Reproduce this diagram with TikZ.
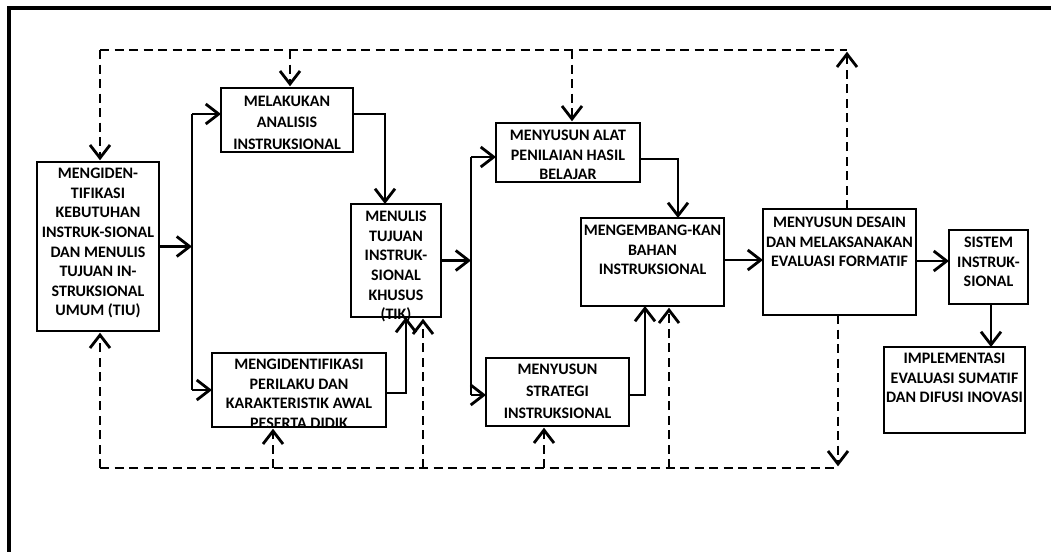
\documentclass[tikz,border=0pt]{standalone}
\usepackage{fontspec}
\setmainfont{Carlito}
\usetikzlibrary{arrows.meta}
\begin{document}
\begin{tikzpicture}[x=1pt,y=-1pt,
  box/.style={draw, line width=1.5pt, inner sep=0pt, outer sep=0pt, anchor=north west},
  txt/.style={anchor=north, inner sep=0pt, align=center, font=\fontsize{16}{19.6}\selectfont\bfseries},
  txtw/.style={anchor=north, inner sep=0pt, align=center, font=\fontsize{16}{21.8}\selectfont\bfseries},
  conn/.style={line width=2.8pt, line join=miter, -{Straight Barb[length=13pt,width=20pt,line width=2.8pt]}},
  plain/.style={line width=2.8pt},
  dsh/.style={line width=2.8pt, dash pattern=on 9pt off 5.5pt},
  dshar/.style={dsh, -{Straight Barb[length=13pt,width=20pt,line width=2.8pt,sep]}}
]
\useasboundingbox (0,0) rectangle (1051,551);
% outer frame
\draw[line width=3.5pt] (9,560) -- (9,8) -- (1060,8);

% boxes
\node[box, minimum width=122pt, minimum height=169pt] (A) at (37,162) {};
\node[box, minimum width=132pt, minimum height=64pt] (B) at (221,88) {};
\node[box, minimum width=174pt, minimum height=74pt] (C) at (212,353) {};
\node[box, minimum width=90pt, minimum height=113pt] (D) at (351,204) {};
\node[box, minimum width=144pt, minimum height=59pt] (E) at (496,123) {};
\node[box, minimum width=143pt, minimum height=88pt] (F) at (581,218) {};
\node[box, minimum width=143pt, minimum height=68pt] (G) at (486,358) {};
\node[box, minimum width=153pt, minimum height=106pt] (H) at (763,209) {};
\node[box, minimum width=79pt, minimum height=74pt] (I) at (949,230) {};
\node[box, minimum width=141pt, minimum height=86pt] (J) at (884,347) {};

% texts
\node[txt] (At) at ([yshift=-6pt]A.north) {MENGIDEN-\\TIFIKASI\\KEBUTUHAN\\INSTRUK-SIONAL\\DAN MENULIS\\TUJUAN IN-\\STRUKSIONAL\\UMUM (TIU)};
\node[txtw] (Bt) at ([yshift=-7.5pt]B.north) {MELAKUKAN\\ANALISIS\\INSTRUKSIONAL};
\node[txt] (Ct) at ([yshift=-6pt]C.north) {MENGIDENTIFIKASI\\PERILAKU DAN\\KARAKTERISTIK AWAL\\PESERTA DIDIK};
\node[txt] (Dt) at ([yshift=-7pt]D.north) {MENULIS\\TUJUAN\\INSTRUK-\\SIONAL\\KHUSUS\\(TIK)};
\node[txt] (Et) at ([yshift=-7pt]E.north) {MENYUSUN ALAT\\PENILAIAN HASIL\\BELAJAR};
\node[txt] (Ft) at ([yshift=-7pt]F.north) {MENGEMBANG-KAN\\BAHAN\\INSTRUKSIONAL};
\node[txtw] (Gt) at ([yshift=-6pt]G.north) {MENYUSUN\\STRATEGI\\INSTRUKSIONAL};
\node[txt] (Ht) at ([yshift=-8pt]H.north) {MENYUSUN DESAIN\\DAN MELAKSANAKAN\\EVALUASI FORMATIF};
\node[txt] (It) at ([yshift=-7pt]I.north) {SISTEM\\INSTRUK-\\SIONAL};
\node[txt] (Jt) at ([yshift=-6pt]J.north) {IMPLEMENTASI\\EVALUASI SUMATIF\\DAN DIFUSI INOVASI};

% helper coordinates
\coordinate (v1top) at (192,114);
\coordinate (v1bot) at (192,390);
\coordinate (b1) at (385,114);
\coordinate (c1) at (406,393);
\coordinate (v2top) at (471,157);
\coordinate (v2bot) at (471,395);
\coordinate (e1) at (678,159);
\coordinate (g1) at (645,395);
\coordinate (f1) at (0,260);
\coordinate (h1) at (0,261);
\coordinate (i1) at (991,0);

% solid connectors
\draw[plain] (v1top) -- (v1bot);
\draw[conn] (A.east) -- (A.east -| v1top);
\draw[conn] (v1top) -- (v1top -| B.west);
\draw[conn] (v1bot) -- (v1bot -| C.west);
\draw[conn] (b1 -| B.east) -- (b1) -- (b1 |- D.north);
\draw[conn] (c1 -| C.east) -- (c1) -- (c1 |- D.south);
\draw[plain] (v2top) -- (v2bot);
\draw[conn] (D.east) -- (D.east -| v2top);
\draw[conn] (v2top) -- (v2top -| E.west);
\draw[conn] (v2bot) -- (v2bot -| G.west);
\draw[conn] (e1 -| E.east) -- (e1) -- (e1 |- F.north);
\draw[conn] (g1 -| G.east) -- (g1) -- (g1 |- F.south);
\draw[conn] (F.east |- f1) -- (H.west |- f1);
\draw[conn] (H.east |- h1) -- (I.west |- h1);
\draw[conn] (I.south -| i1) -- (J.north -| i1);

% dashed feedback lines
\coordinate (tl) at (100,50);
\coordinate (t2) at (290,50);
\coordinate (t3) at (572,50);
\coordinate (tr) at (847,50);
\coordinate (bl) at (100,468);
\coordinate (b2) at (273,468);
\coordinate (b3) at (423,468);
\coordinate (b4) at (544,468);
\coordinate (b5) at (669,468);
\coordinate (br) at (838,468);

\draw[dsh] (tl) -- (tr);
\draw[dshar] (tl) -- (tl |- A.north);
\draw[dshar] (t2) -- (t2 |- B.north);
\draw[dshar] (t3) -- (t3 |- E.north);
\draw[dshar] (tr |- H.north) -- (tr);

\draw[dsh] (bl) -- (br);
\draw[dshar] (bl) -- (bl |- A.south);
\draw[dshar] (b2) -- (b2 |- C.south);
\draw[dshar] (b3) -- (b3 |- D.south);
\draw[dshar] (b4) -- (b4 |- G.south);
\draw[dshar] (b5) -- (b5 |- F.south);
\draw[dshar] (br |- H.south) -- (br);
\end{tikzpicture}
\end{document}
